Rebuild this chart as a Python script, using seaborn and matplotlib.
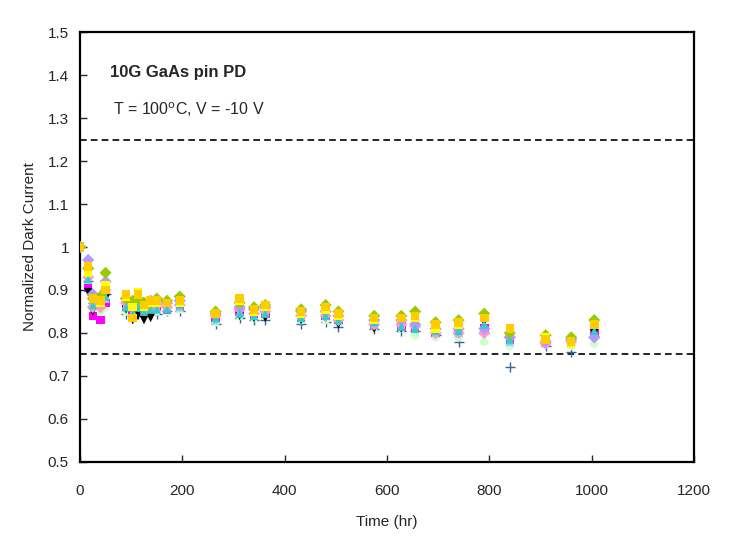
import numpy as np
import pandas as pd
import matplotlib
matplotlib.use("Agg")
import matplotlib.pyplot as plt
import seaborn as sns

time_hr = [0, 16, 25, 40, 50, 90, 103, 113, 125, 138, 150, 170, 195, 265, 312,
           340, 362, 432, 480, 505, 575, 628, 655, 695, 740, 790, 840, 910, 960, 1005]

dev_purple = [1.00, 0.97, 0.89, 0.88, 0.92, 0.88, 0.87, 0.875, 0.87, 0.875, 0.875, 0.87, 0.875, 0.845, 0.86,
              0.855, 0.86, 0.85, 0.85, 0.84, 0.83, 0.83, 0.82, 0.81, 0.81, 0.81, 0.79, 0.78, 0.785, 0.79]
dev_magenta = [1.00, 0.905, 0.84, 0.83, 0.87, 0.86, 0.855, 0.86, 0.85, 0.855, 0.86, 0.855, 0.86, 0.835, 0.85,
               0.845, 0.845, 0.835, 0.84, 0.83, 0.82, 0.815, 0.815, 0.80, 0.805, 0.81, 0.785, 0.78, 0.775, 0.80]
dev_black = [1.00, 0.895, 0.85, 0.86, 0.88, 0.855, 0.83, 0.84, 0.83, 0.835, 0.86, 0.86, 0.87, 0.84, 0.84,
             0.835, 0.835, 0.83, 0.835, 0.82, 0.81, 0.81, 0.82, 0.80, 0.81, 0.825, 0.79, 0.78, 0.78, 0.80]
dev_plus = [1.00, 0.92, 0.87, 0.86, 0.89, 0.845, 0.84, 0.845, 0.84, 0.845, 0.845, 0.85, 0.85, 0.82, 0.835,
            0.83, 0.83, 0.82, 0.825, 0.815, 0.81, 0.805, 0.805, 0.795, 0.78, 0.80, 0.72, 0.77, 0.755, 0.79]
dev_green = [1.00, 0.95, 0.88, 0.885, 0.94, 0.88, 0.875, 0.88, 0.87, 0.87, 0.88, 0.875, 0.885, 0.85, 0.87,
             0.86, 0.865, 0.855, 0.865, 0.85, 0.84, 0.84, 0.85, 0.825, 0.83, 0.845, 0.80, 0.795, 0.79, 0.83]
dev_ltgreen = [1.00, 0.91, 0.86, 0.85, 0.86, 0.85, 0.85, 0.85, 0.845, 0.85, 0.85, 0.85, 0.855, 0.825, 0.84,
               0.835, 0.84, 0.83, 0.83, 0.825, 0.815, 0.81, 0.795, 0.79, 0.79, 0.78, 0.77, 0.775, 0.77, 0.775]
dev_ltblue = [1.00, 0.93, 0.875, 0.865, 0.88, 0.865, 0.85, 0.865, 0.855, 0.86, 0.86, 0.86, 0.86, 0.83, 0.85,
              0.84, 0.85, 0.84, 0.845, 0.835, 0.82, 0.82, 0.81, 0.80, 0.80, 0.815, 0.78, 0.78, 0.785, 0.80]
dev_pink = [1.00, 0.93, 0.86, 0.86, 0.90, 0.87, 0.86, 0.87, 0.86, 0.865, 0.865, 0.86, 0.865, 0.84, 0.855,
            0.845, 0.85, 0.84, 0.84, 0.83, 0.82, 0.82, 0.815, 0.80, 0.80, 0.80, 0.79, 0.775, 0.78, 0.79]
dev_cyan = [1.00, 0.925, 0.865, 0.87, 0.885, 0.86, 0.845, 0.86, 0.85, 0.855, 0.855, 0.855, 0.865, 0.835, 0.845,
            0.84, 0.845, 0.835, 0.84, 0.83, 0.825, 0.815, 0.81, 0.805, 0.805, 0.82, 0.785, 0.785, 0.78, 0.805]
dev_yellow = [1.00, 0.94, 0.88, 0.87, 0.91, 0.885, 0.86, 0.895, 0.86, 0.87, 0.87, 0.87, 0.87, 0.845, 0.875,
              0.85, 0.86, 0.845, 0.855, 0.84, 0.83, 0.835, 0.835, 0.81, 0.82, 0.835, 0.81, 0.79, 0.775, 0.82]
dev_orange = [1.00, 0.955, 0.88, 0.875, 0.90, 0.89, 0.835, 0.89, 0.865, 0.875, 0.875, 0.87, 0.875, 0.845, 0.88,
              0.855, 0.865, 0.85, 0.86, 0.845, 0.835, 0.835, 0.84, 0.82, 0.825, 0.835, 0.81, 0.785, 0.78, 0.82]

filled_series = {
    "ltgreen": (dev_ltgreen, "#ccffcc", "o"),
    "magenta": (dev_magenta, "#ff00ff", "s"),
    "black": (dev_black, "#000000", "v"),
    "ltblue": (dev_ltblue, "#99ccff", "^"),
    "pink": (dev_pink, "#ff99cc", "D"),
    "purple": (dev_purple, "#b399ff", "D"),
    "cyan": (dev_cyan, "#33cccc", "^"),
    "green": (dev_green, "#99cc00", "D"),
    "yellow": (dev_yellow, "#ffff00", "s"),
    "orange": (dev_orange, "#ffcc00", "s"),
}

rows = []
for name, (vals, col, mk) in filled_series.items():
    for t, v in zip(time_hr, vals):
        rows.append({"device": name, "time": t, "value": v})
df = pd.DataFrame(rows)
df_plus = pd.DataFrame({"device": "plus", "time": time_hr, "value": dev_plus})

sns.set_style("white")
plt.rcParams["font.family"] = ["Liberation Sans", "DejaVu Sans"]

fig = plt.figure(figsize=(7.3, 5.55), dpi=100)
ax = fig.add_axes([0.1096, 0.1676, 0.8411, 0.7747])

sns.scatterplot(data=df_plus, x="time", y="value", marker="+", color="#336699",
                s=45, linewidth=1.0, ax=ax, legend=False, zorder=3)
sns.scatterplot(data=df, x="time", y="value", hue="device", style="device",
                palette={k: v[1] for k, v in filled_series.items()},
                markers={k: v[2] for k, v in filled_series.items()},
                hue_order=list(filled_series.keys()),
                style_order=list(filled_series.keys()),
                s=38, linewidth=0, ax=ax, legend=False, zorder=4)

ax.axhline(1.25, color="black", linestyle=(0, (4, 2.5)), linewidth=1.2, zorder=2)
ax.axhline(0.75, color="black", linestyle=(0, (4, 2.5)), linewidth=1.2, zorder=2)

ax.set_xlim(0, 1200)
ax.set_ylim(0.5, 1.5)
ax.set_xticks([0, 200, 400, 600, 800, 1000, 1200])
ax.set_yticks([0.5, 0.6, 0.7, 0.8, 0.9, 1.0, 1.1, 1.2, 1.3, 1.4, 1.5])
ax.set_yticklabels(["0.5", "0.6", "0.7", "0.8", "0.9", "1", "1.1", "1.2", "1.3", "1.4", "1.5"])
ax.tick_params(axis="both", direction="in", length=5, width=1, labelsize=11,
               bottom=True, left=True, top=False, right=False)
ax.tick_params(axis="x", pad=16)
ax.tick_params(axis="y", pad=8)
for sp in ax.spines.values():
    sp.set_color("black")
    sp.set_linewidth(1.6)

ax.set_xlabel("Time (hr)", fontsize=11, labelpad=12)
ax.set_ylabel("Normalized Dark Current", fontsize=11, labelpad=8)

ax.text(58, 1.407, "10G GaAs pin PD", fontsize=12, fontweight="bold", va="center")
ax.text(64, 1.319, r"T = 100$^{\mathrm{o}}$C, V = -10 V", fontsize=11.5, va="center")

fig.savefig("out.png", dpi=100)
